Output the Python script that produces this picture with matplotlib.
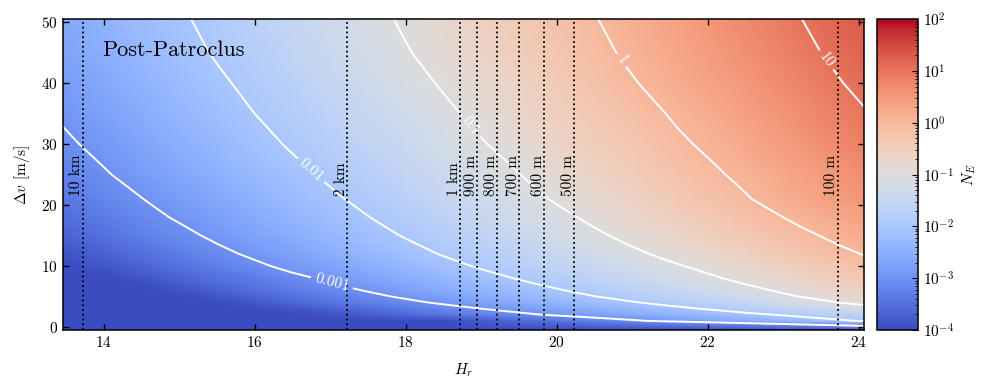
import numpy as np
import matplotlib
matplotlib.use("Agg")
import matplotlib.pyplot as plt
from matplotlib.colors import LogNorm

plt.rcParams['font.family'] = ['cmr10', 'DejaVu Serif']
plt.rcParams['mathtext.fontset'] = 'cm'
plt.rcParams['axes.formatter.use_mathtext'] = True
plt.rcParams['axes.unicode_minus'] = False

# ---------------- data (log10 N_E) ----------------
H_nodes = [13.46, 14.0, 14.5, 15.0, 15.5, 16.0, 16.5, 17.0, 17.5, 18.0, 18.5,
           19.0, 19.5, 20.0, 20.5, 21.0, 21.5, 22.0, 22.5, 23.0, 23.5, 24.07]
dv_nodes = [-0.5, 1, 2, 3, 4, 5, 6, 7, 8, 9, 10, 11, 12, 13.5, 15, 16.5, 18,
            19.5, 21, 23, 25, 27.5, 30, 32.5, 35, 40, 45, 50.5]

logNE_dvm05 = [-7.71, -7.52, -7.34, -7.15, -6.97, -6.79, -6.61, -6.43, -6.25, -6.06, -5.88, -5.70, -5.52, -5.34, -5.15, -4.97, -4.79, -4.61, -4.43, -4.25, -4.06, -3.86]
logNE_dv01 = [-5.81, -5.62, -5.44, -5.25, -5.07, -4.89, -4.71, -4.53, -4.35, -4.16, -3.98, -3.80, -3.62, -3.44, -3.25, -3.07, -2.89, -2.71, -2.53, -2.35, -2.16, -1.96]
logNE_dv02 = [-5.09, -4.91, -4.74, -4.58, -4.42, -4.25, -4.09, -3.92, -3.76, -3.60, -3.43, -3.27, -3.10, -2.94, -2.78, -2.61, -2.45, -2.29, -2.12, -1.96, -1.79, -1.61]
logNE_dv03 = [-4.91, -4.72, -4.55, -4.38, -4.21, -4.03, -3.86, -3.69, -3.52, -3.34, -3.17, -3.00, -2.83, -2.66, -2.48, -2.31, -2.14, -1.96, -1.77, -1.58, -1.38, -1.17]
logNE_dv04 = [-4.73, -4.54, -4.36, -4.18, -4.00, -3.82, -3.64, -3.46, -3.29, -3.11, -2.93, -2.75, -2.57, -2.39, -2.21, -2.04, -1.85, -1.66, -1.47, -1.28, -1.09, -0.88]
logNE_dv05 = [-4.60, -4.40, -4.21, -4.03, -3.85, -3.66, -3.48, -3.29, -3.11, -2.93, -2.74, -2.56, -2.38, -2.19, -2.01, -1.82, -1.63, -1.45, -1.26, -1.07, -0.89, -0.68]
logNE_dv06 = [-4.47, -4.27, -4.08, -3.90, -3.71, -3.52, -3.34, -3.15, -2.97, -2.78, -2.59, -2.41, -2.22, -2.04, -1.85, -1.67, -1.49, -1.31, -1.12, -0.94, -0.76, -0.55]
logNE_dv07 = [-4.36, -4.16, -3.97, -3.78, -3.59, -3.41, -3.22, -3.03, -2.84, -2.66, -2.47, -2.28, -2.09, -1.91, -1.73, -1.55, -1.36, -1.18, -1.00, -0.82, -0.64, -0.43]
logNE_dv08 = [-4.26, -4.05, -3.86, -3.67, -3.48, -3.30, -3.11, -2.92, -2.73, -2.54, -2.35, -2.16, -1.97, -1.79, -1.61, -1.43, -1.25, -1.07, -0.89, -0.71, -0.53, -0.32]
logNE_dv09 = [-4.14, -3.94, -3.75, -3.56, -3.37, -3.18, -2.99, -2.81, -2.62, -2.43, -2.24, -2.05, -1.87, -1.69, -1.51, -1.33, -1.15, -0.98, -0.80, -0.62, -0.44, -0.24]
logNE_dv10 = [-4.04, -3.83, -3.65, -3.46, -3.27, -3.08, -2.89, -2.70, -2.51, -2.32, -2.14, -1.95, -1.77, -1.60, -1.42, -1.24, -1.07, -0.89, -0.71, -0.54, -0.36, -0.16]
logNE_dv11 = [-3.96, -3.75, -3.56, -3.38, -3.19, -3.00, -2.81, -2.62, -2.43, -2.24, -2.05, -1.87, -1.69, -1.51, -1.34, -1.16, -0.98, -0.80, -0.63, -0.45, -0.27, -0.07]
logNE_dv12 = [-3.89, -3.68, -3.49, -3.30, -3.11, -2.92, -2.73, -2.54, -2.35, -2.16, -1.97, -1.79, -1.61, -1.44, -1.26, -1.08, -0.90, -0.72, -0.54, -0.36, -0.19, 0.02]
logNE_dv13p5 = [-3.78, -3.58, -3.39, -3.20, -3.01, -2.82, -2.63, -2.44, -2.25, -2.06, -1.88, -1.70, -1.52, -1.34, -1.16, -0.98, -0.80, -0.62, -0.44, -0.26, -0.08, 0.12]
logNE_dv15 = [-3.69, -3.48, -3.29, -3.11, -2.92, -2.73, -2.54, -2.35, -2.16, -1.97, -1.79, -1.61, -1.43, -1.25, -1.07, -0.89, -0.71, -0.53, -0.35, -0.17, 0.01, 0.22]
logNE_dv16p5 = [-3.61, -3.40, -3.22, -3.03, -2.84, -2.65, -2.46, -2.27, -2.08, -1.90, -1.72, -1.54, -1.35, -1.17, -0.99, -0.81, -0.63, -0.45, -0.26, -0.08, 0.10, 0.30]
logNE_dv18 = [-3.54, -3.33, -3.14, -2.95, -2.77, -2.58, -2.39, -2.20, -2.01, -1.83, -1.65, -1.46, -1.28, -1.10, -0.92, -0.73, -0.55, -0.37, -0.19, 0.00, 0.18, 0.39]
logNE_dv19p5 = [-3.46, -3.26, -3.07, -2.89, -2.70, -2.51, -2.32, -2.13, -1.95, -1.76, -1.58, -1.40, -1.21, -1.03, -0.84, -0.66, -0.48, -0.29, -0.11, 0.08, 0.26, 0.47]
logNE_dv21 = [-3.40, -3.19, -3.01, -2.82, -2.63, -2.45, -2.26, -2.07, -1.89, -1.70, -1.51, -1.33, -1.14, -0.96, -0.77, -0.59, -0.40, -0.22, -0.03, 0.15, 0.34, 0.55]
logNE_dv23 = [-3.32, -3.12, -2.93, -2.74, -2.56, -2.37, -2.18, -2.00, -1.81, -1.63, -1.44, -1.26, -1.07, -0.89, -0.70, -0.52, -0.34, -0.15, 0.03, 0.22, 0.40, 0.61]
logNE_dv25 = [-3.24, -3.04, -2.85, -2.67, -2.48, -2.30, -2.11, -1.93, -1.74, -1.56, -1.38, -1.19, -1.01, -0.82, -0.64, -0.46, -0.27, -0.09, 0.10, 0.28, 0.46, 0.67]
logNE_dv27p5 = [-3.16, -2.96, -2.77, -2.59, -2.40, -2.21, -2.03, -1.85, -1.66, -1.48, -1.29, -1.11, -0.93, -0.74, -0.56, -0.38, -0.19, -0.01, 0.18, 0.36, 0.54, 0.75]
logNE_dv30 = [-3.08, -2.88, -2.69, -2.51, -2.32, -2.14, -1.95, -1.77, -1.58, -1.40, -1.22, -1.03, -0.85, -0.67, -0.48, -0.30, -0.11, 0.07, 0.25, 0.44, 0.62, 0.83]
logNE_dv32p5 = [-3.01, -2.81, -2.62, -2.44, -2.25, -2.07, -1.88, -1.70, -1.51, -1.33, -1.15, -0.96, -0.78, -0.60, -0.41, -0.23, -0.04, 0.14, 0.32, 0.51, 0.69, 0.90]
logNE_dv35 = [-2.94, -2.74, -2.56, -2.37, -2.19, -2.00, -1.82, -1.63, -1.45, -1.26, -1.08, -0.90, -0.71, -0.53, -0.35, -0.16, 0.02, 0.21, 0.39, 0.57, 0.76, 0.97]
logNE_dv40 = [-2.83, -2.63, -2.44, -2.26, -2.07, -1.89, -1.70, -1.51, -1.33, -1.14, -0.96, -0.77, -0.59, -0.40, -0.22, -0.03, 0.15, 0.34, 0.52, 0.71, 0.89, 1.10]
logNE_dv45 = [-2.72, -2.52, -2.33, -2.15, -1.96, -1.78, -1.59, -1.40, -1.22, -1.03, -0.85, -0.66, -0.48, -0.29, -0.11, 0.08, 0.26, 0.45, 0.63, 0.82, 1.00, 1.21]
logNE_dv50 = [-2.63, -2.43, -2.24, -2.06, -1.87, -1.69, -1.50, -1.31, -1.13, -0.94, -0.76, -0.57, -0.39, -0.20, -0.02, 0.17, 0.35, 0.54, 0.72, 0.91, 1.09, 1.30]

contour_levels = [-3, -2, -1, 0, 1]
contour_names = ['0.001', '0.01', '0.1', '1', '10']
contour_label_pos = [(17.01, 6.7), (16.75, 25.8), (18.84, 32.7), (20.87, 43.9), (23.58, 43.9)]

size_labels = ['10 km', '2 km', '1 km', '900 m', '800 m', '700 m', '600 m', '500 m', '100 m']
size_H = [13.72, 17.22, 18.72, 18.95, 19.21, 19.50, 19.83, 20.23, 23.72]

x_ticks = [14, 16, 18, 20, 22, 24]
y_ticks = [0, 10, 20, 30, 40, 50]
cbar_exps = [-4, -3, -2, -1, 0, 1, 2]

# ---------------- figure ----------------
logNE = np.array([logNE_dvm05, logNE_dv01, logNE_dv02, logNE_dv03, logNE_dv04,
                  logNE_dv05, logNE_dv06, logNE_dv07, logNE_dv08, logNE_dv09,
                  logNE_dv10, logNE_dv11, logNE_dv12, logNE_dv13p5, logNE_dv15,
                  logNE_dv16p5, logNE_dv18, logNE_dv19p5, logNE_dv21, logNE_dv23,
                  logNE_dv25, logNE_dv27p5, logNE_dv30, logNE_dv32p5, logNE_dv35,
                  logNE_dv40, logNE_dv45, logNE_dv50])
NE = 10.0 ** logNE
H = np.array(H_nodes)
DV = np.array(dv_nodes)

W, Hpx = 997, 388
fig = plt.figure(figsize=(W / 100, Hpx / 100), dpi=100)
ax = fig.add_axes([63 / W, 1 - 330 / Hpx, (864 - 63) / W, (330 - 19.3) / Hpx])
cax = fig.add_axes([877.3 / W, 1 - 330 / Hpx, 41 / W, (330 - 19.3) / Hpx])

norm = LogNorm(vmin=1e-4, vmax=1e2)
mesh = ax.pcolormesh(H, DV, NE, cmap='coolwarm', norm=norm, shading='gouraud',
                     rasterized=True)

cs = ax.contour(H, DV, logNE, levels=contour_levels, colors='white',
                linewidths=1.4, linestyles='solid')
fmt = {lv: nm for lv, nm in zip(contour_levels, contour_names)}
ax.clabel(cs, levels=contour_levels, fmt=fmt, inline=True, fontsize=11,
          colors='white', manual=contour_label_pos, inline_spacing=4)

for hv, lab in zip(size_H, size_labels):
    ax.axvline(hv, color='black', linestyle=':', linewidth=1.3)
    ax.text(hv + 0.01, 21.5, lab, rotation=90, ha='right', va='bottom',
            fontsize=11, color='black')

ax.text(0.0496, 0.882, 'Post-Patroclus', transform=ax.transAxes, fontsize=16,
        ha='left', va='baseline')

ax.set_xlim(13.46, 24.07)
ax.set_ylim(-0.5, 50.5)
ax.set_xticks(x_ticks)
ax.set_yticks(y_ticks)
ax.tick_params(which='both', direction='in', top=True, right=True, labelsize=11,
               length=4.5, width=1.0)
ax.set_xlabel(r'$H_r$', fontsize=11, labelpad=8)
ax.set_ylabel(r'$\Delta v$ [m/s]', fontsize=11, labelpad=7)
for s in ax.spines.values():
    s.set_linewidth(1.1)

cb = fig.colorbar(mesh, cax=cax)
cb.set_ticks([10.0 ** e for e in cbar_exps])
cb.set_ticklabels([r'$10^{%d}$' % e for e in cbar_exps])
cb.ax.tick_params(which='both', direction='in', labelsize=11)
cb.ax.tick_params(which='major', length=4.5)
cb.ax.tick_params(which='minor', length=2.5)
cb.set_label(r'$N_E$', fontsize=11)
cb.outline.set_linewidth(1.1)

fig.savefig('out.png', dpi=100)
